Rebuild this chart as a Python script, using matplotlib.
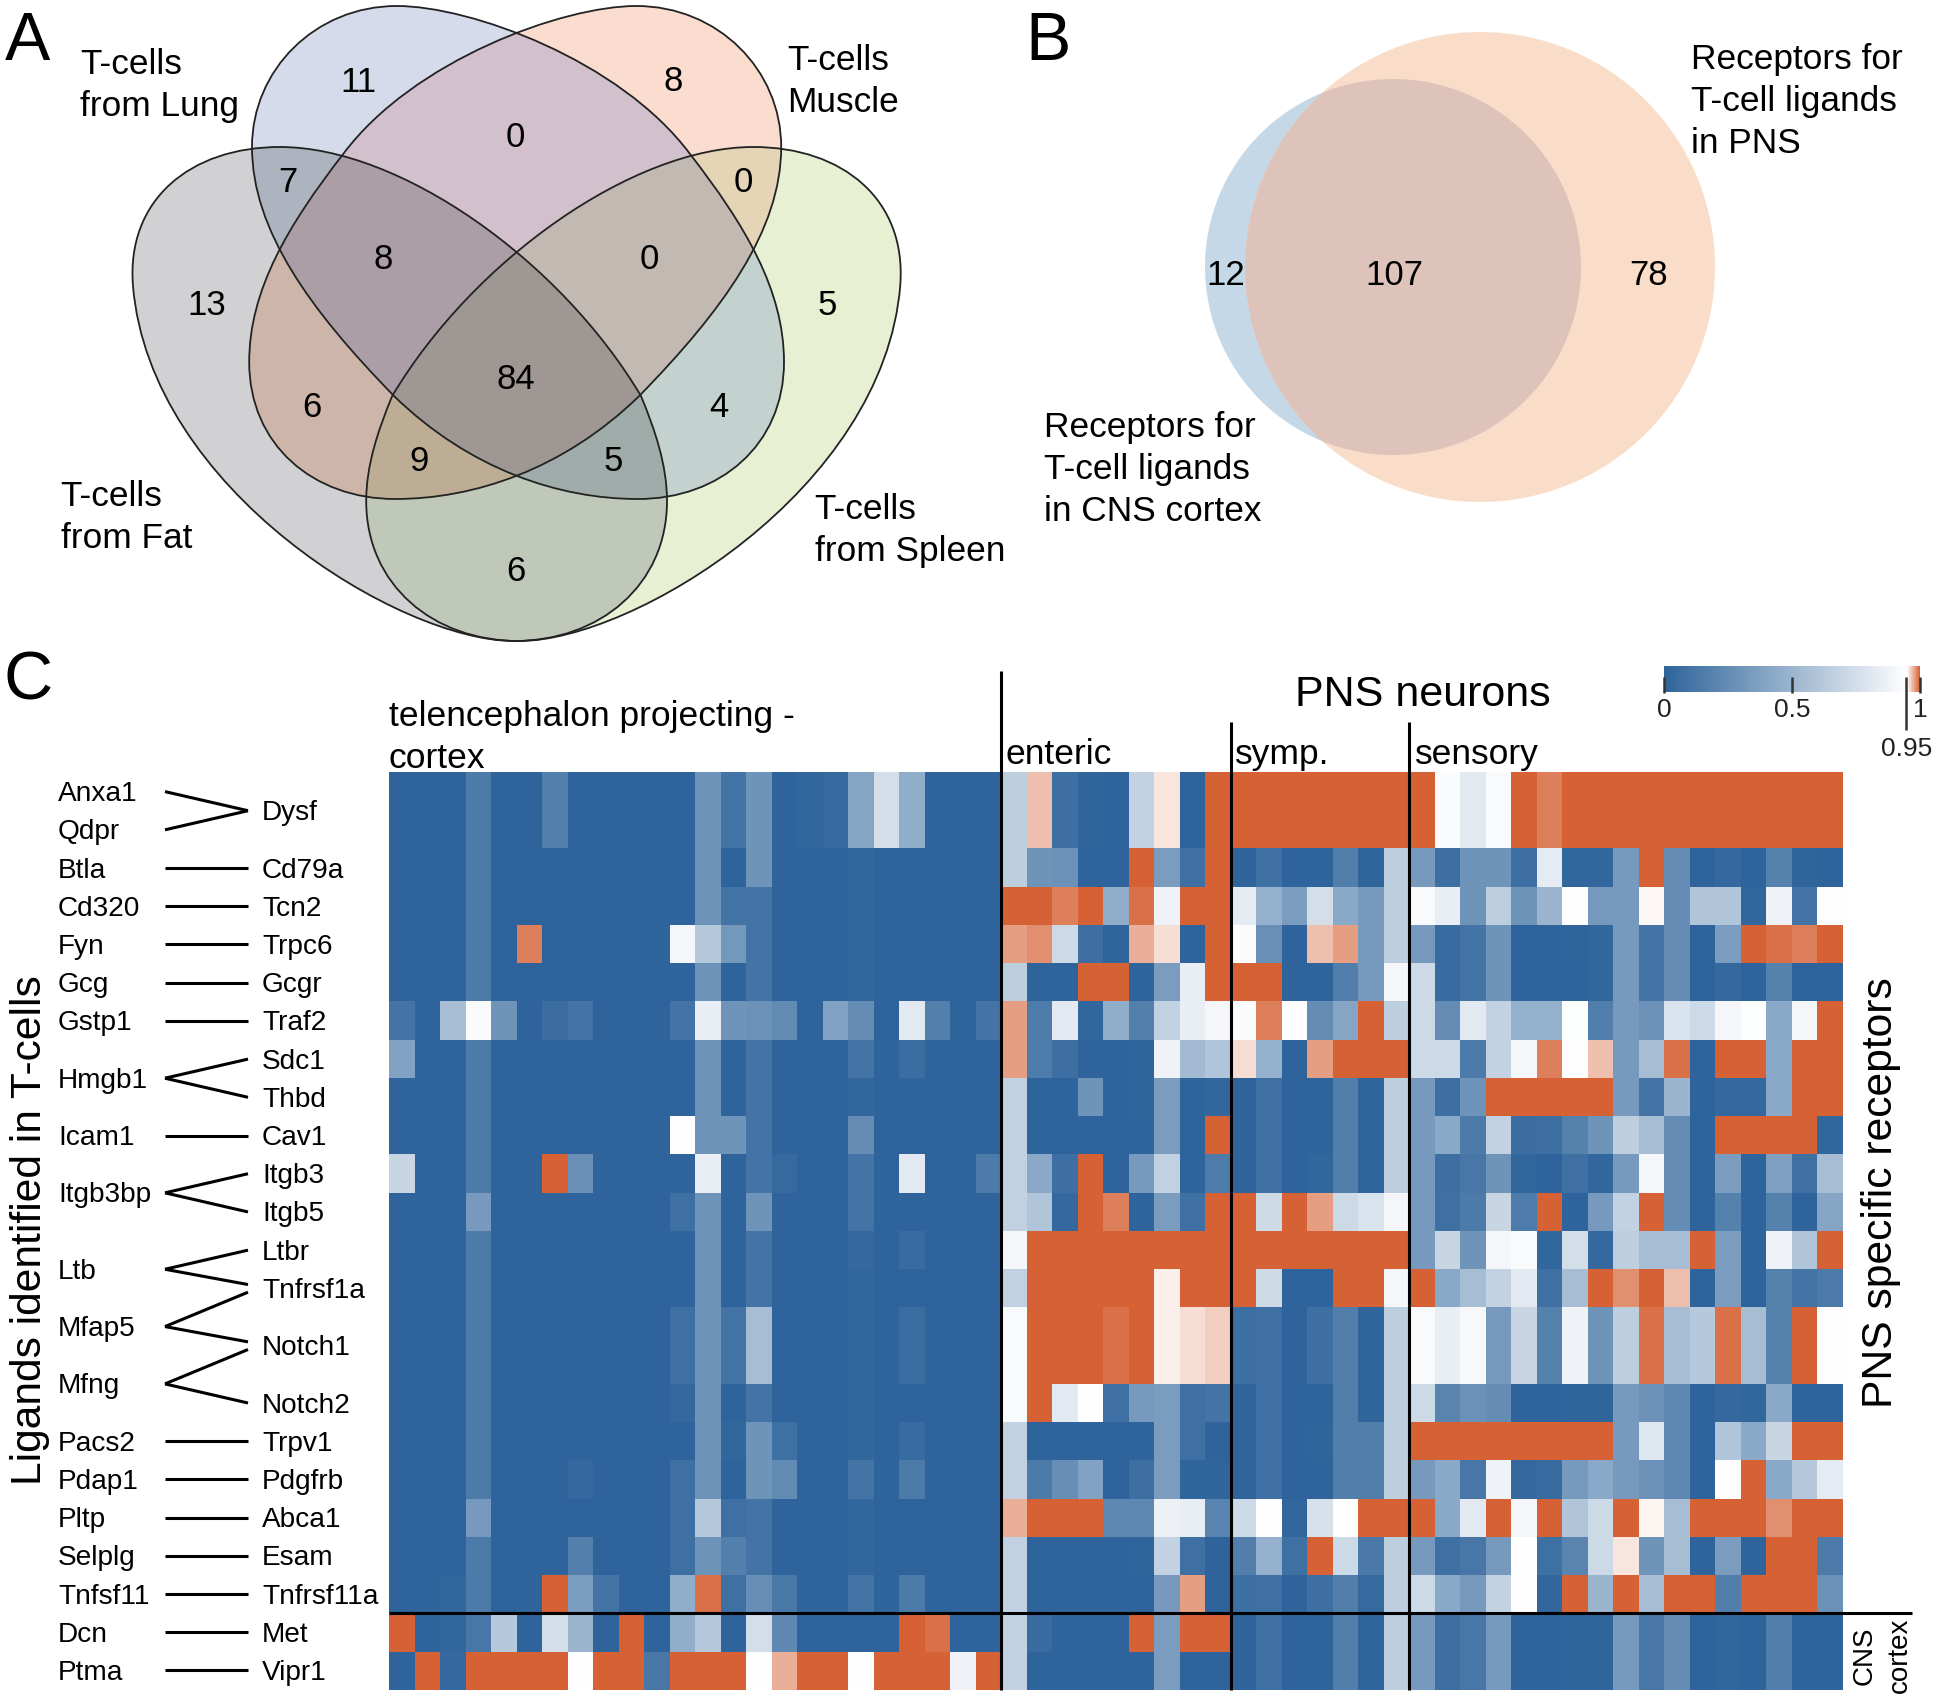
import matplotlib
matplotlib.use('Agg')
import matplotlib.pyplot as plt
import numpy as np
from matplotlib.colors import LinearSegmentedColormap, to_rgb
from matplotlib.patches import Circle, PathPatch
from matplotlib.path import Path

plt.rcParams['font.family'] = ['Liberation Sans', 'DejaVu Sans']

# heatmap values, one list per group of neurons, rows top to bottom
cortex = [
    [0, 0, 0, .14, 0, 0, .17, 0, 0, 0, 0, 0, .3, .1, .3, 0, .02, .04, .4, .75, .45, 0, 0, 0],
    [0, 0, 0, .14, 0, 0, .17, 0, 0, 0, 0, 0, .3, .1, .3, 0, .02, .04, .4, .75, .45, 0, 0, 0],
    [0, 0, 0, .14, 0, 0, 0, 0, 0, 0, 0, 0, .3, 0, .3, 0, 0, 0, .02, 0, 0, 0, 0, 0],
    [0, 0, 0, .14, 0, 0, 0, 0, 0, 0, 0, 0, .3, .1, .1, 0, 0, 0, .02, 0, 0, 0, 0, 0],
    [0, 0, 0, .14, 0, .99, 0, 0, 0, 0, 0, .9, .62, .32, .1, 0, 0, 0, .02, 0, 0, 0, 0, 0],
    [0, 0, 0, .14, 0, 0, 0, 0, 0, 0, 0, 0, .3, 0, .1, 0, 0, 0, .02, 0, 0, 0, 0, 0],
    [.1, 0, .55, .92, .3, 0, .06, .1, 0, 0, 0, .1, .85, .3, .28, .24, 0, .38, .25, 0, .82, .17, 0, .1],
    [.38, 0, 0, .14, 0, 0, 0, 0, 0, 0, 0, 0, .3, 0, .1, 0, 0, 0, .1, 0, .06, 0, 0, 0],
    [0, 0, 0, .14, 0, 0, 0, 0, 0, 0, 0, 0, .3, 0, .1, 0, 0, 0, .02, 0, 0, 0, 0, 0],
    [0, 0, 0, .14, 0, 0, 0, 0, 0, 0, 0, .95, .3, .3, .1, 0, 0, 0, .25, 0, 0, 0, 0, 0],
    [.7, 0, 0, .14, 0, 0, 1, .27, 0, 0, 0, 0, .85, 0, .1, .04, 0, 0, .1, 0, .82, 0, 0, .14],
    [0, 0, 0, .33, 0, 0, 0, 0, 0, 0, 0, .08, .3, 0, .3, 0, 0, 0, .1, 0, 0, 0, 0, 0],
    [0, 0, 0, .14, 0, 0, 0, 0, 0, 0, 0, 0, .3, 0, .1, 0, 0, 0, .03, 0, .05, 0, 0, 0],
    [0, 0, 0, .14, 0, 0, 0, 0, 0, 0, 0, 0, .3, 0, .1, 0, 0, 0, .02, 0, 0, 0, 0, 0],
    [0, 0, 0, .14, 0, 0, 0, 0, 0, 0, 0, .08, .3, .1, .55, 0, 0, 0, .02, 0, .06, 0, 0, 0],
    [0, 0, 0, .14, 0, 0, 0, 0, 0, 0, 0, .08, .3, .1, .55, 0, 0, 0, .02, 0, .06, 0, 0, 0],
    [0, 0, 0, .14, 0, 0, 0, 0, 0, 0, 0, .03, .3, 0, .1, 0, 0, 0, .02, 0, 0, 0, 0, 0],
    [0, 0, 0, .14, 0, 0, 0, 0, 0, 0, 0, 0, .3, .02, .3, .08, 0, 0, .02, 0, .05, 0, 0, 0],
    [0, 0, 0, .14, 0, 0, 0, .03, 0, 0, 0, .08, .3, 0, .3, .24, 0, 0, .1, 0, .14, 0, 0, 0],
    [0, 0, 0, .33, 0, 0, 0, 0, 0, 0, 0, .08, .62, .08, .1, 0, 0, 0, .02, 0, 0, 0, 0, 0],
    [0, 0, 0, .14, 0, 0, 0, .17, 0, 0, 0, .08, .3, .17, .1, 0, 0, 0, .02, 0, 0, 0, 0, 0],
    [0, 0, .02, .14, 0, 0, 1, .35, .1, 0, 0, .45, .995, .08, .26, .13, 0, 0, .1, 0, .14, 0, 0, 0],
    [1, 0, .02, .12, .62, 0, .75, .5, 0, 1, 0, .45, .62, 0, .75, .22, 0, 0, 0, 0, 1, .995, 0, 0],
    [0, 1, .03, 1, 1, 1, 1, .95, 1, 1, .12, 1, 1, 1, .95, .975, 1, 1, .95, 1, 1, 1, .88, 1],
]
enteric = [
    [.65, .97, .07, .01, 0, .68, .958, 0, 1],
    [.65, .97, .07, .01, 0, .68, .958, 0, 1],
    [.65, .3, .28, 0, 0, 1, .35, .08, 1],
    [1, 1, .99, 1, .45, .995, .88, 1, 1],
    [.98, .985, .72, .07, .01, .975, .96, 0, 1],
    [.65, 0, 0, 1, 1, 0, .35, .85, 1],
    [.98, .15, .82, .02, .45, .17, .67, .85, .9],
    [.98, .15, .07, 0, 0, .01, .88, .53, .6],
    [.67, 0, 0, .3, 0, .01, .35, 0, .02],
    [.67, 0, 0, 0, 0, 0, .35, 0, 1],
    [.67, .42, .07, 1, 0, .33, .67, 0, .15],
    [.67, .6, .03, 1, .99, 0, .35, .08, 1],
    [.9, 1, 1, 1, 1, 1, 1, 1, 1],
    [.67, 1, 1, 1, 1, 1, .955, 1, 1],
    [.92, 1, 1, 1, .995, 1, .955, .96, .965],
    [.92, 1, 1, 1, .995, 1, .955, .96, .965],
    [.92, 1, .82, .95, .08, .33, .35, .08, .1],
    [.67, 0, 0, 0, 0, 0, .35, .08, 0],
    [.67, .14, .26, .38, 0, .07, .35, .01, .01],
    [.975, 1, 1, 1, .22, .22, .87, .84, .2],
    [.67, 0, 0, 0, 0, .01, .68, .08, 0],
    [.67, 0, 0, 0, 0, 0, .33, .98, 0],
    [.67, .05, 0, 0, 0, 1, .35, 1, 1],
    [.67, 0, 0, 0, 0, 0, .35, 0, 0],
]
symp = [
    [1, 1, 1, 1, 1, 1, 1],
    [1, 1, 1, 1, 1, 1, 1],
    [0, .08, 0, 0, .16, .01, .65],
    [.83, .47, .35, .75, .42, .33, .65],
    [.93, .27, 0, .97, .98, .33, .65],
    [1, 1, 0, 0, .16, .33, .9],
    [.93, .99, .95, .25, .4, 1, .65],
    [.96, .47, 0, .98, 1, 1, 1],
    [0, .08, 0, 0, .16, .01, .65],
    [0, .08, 0, 0, .16, .01, .65],
    [0, .08, 0, .02, .16, .01, .65],
    [1, .73, 1, .98, .72, .78, .9],
    [1, 1, 1, 1, 1, 1, 1],
    [1, .73, 0, 0, 1, 1, .9],
    [.07, .08, 0, .07, .16, .01, .65],
    [.07, .08, 0, .07, .16, .01, .65],
    [.01, .08, 0, 0, .16, .01, .65],
    [.01, .08, 0, .01, .16, .16, .65],
    [.01, .08, 0, 0, .16, .16, .65],
    [.72, .95, .02, .77, .95, 1, 1],
    [.16, .47, .08, 1, .72, .13, .65],
    [.07, .08, 0, .07, .16, .04, .65],
    [0, .08, 0, 0, .16, .01, .65],
    [0, .08, 0, 0, .16, .01, .65],
]
sensory = [
    [1, .93, .82, .92, 1, .99, 1, 1, 1, 1, 1, 1, 1, 1, 1, 1, 1],
    [1, .93, .82, .92, 1, .99, 1, 1, 1, 1, 1, 1, 1, 1, 1, 1, 1],
    [.33, .07, .3, .3, .07, .83, .02, .02, .33, 1, .25, 0, .03, 0, .18, .01, 0],
    [.92, .85, .3, .65, .3, .5, .95, .33, .33, .952, .25, .6, .6, .02, .88, .1, .95],
    [.33, .05, .1, .3, 0, 0, .01, .02, .33, .1, .25, 0, .35, 1, .995, .99, 1],
    [.72, .05, .1, .3, 0, 0, 0, .02, .33, .1, .25, 0, .03, 0, .18, 0, 0],
    [.72, .25, .82, .68, .47, .47, .94, .16, .33, .28, .78, .72, .9, .94, .42, .9, 1],
    [.72, .72, .14, .68, .9, .99, .95, .97, .33, .55, .995, 0, 1, 1, .42, 1, 1],
    [.33, .07, .3, 1, 1, 1, 1, 1, .33, .1, .5, 0, .03, .03, .42, 1, 1],
    [.33, .42, .14, .68, .06, .07, .18, .3, .65, .55, .25, 0, 1, 1, 1, 1, .02],
    [.33, .07, .12, .3, .02, 0, .08, .02, .33, .9, .25, 0, .35, 0, .37, .08, .55],
    [.33, .08, .14, .7, .15, 1, 0, .33, .68, 1, .25, 0, .18, 0, .18, 0, .4],
    [.33, .7, .3, .9, .92, .02, .75, .03, .65, .55, .55, 1, .35, 0, .88, .6, 1],
    [1, .42, .55, .68, .82, .08, .55, 1, .985, 1, .97, 0, .35, 0, .18, .1, .14],
    [.92, .85, .91, .33, .7, .18, .88, .3, .65, .995, .55, .62, .995, .55, .18, 1, .95],
    [.92, .85, .91, .33, .7, .18, .88, .3, .65, .995, .55, .62, .995, .55, .18, 1, .95],
    [.72, .2, .28, .25, 0, 0, .01, .01, .33, .28, .22, 0, .03, .02, .42, 0, 0],
    [1, 1, 1, 1, 1, 1, 1, 1, .33, .8, .22, 0, .6, .42, .7, 1, 1],
    [.33, .42, .12, .88, .03, .05, .33, .42, .33, .28, .22, 0, .95, 1, .42, .62, .83],
    [1, .42, .82, 1, .9, 1, .6, .72, 1, .953, .55, 1, 1, 1, .985, 1, 1],
    [.33, .08, .12, .33, .95, .08, .2, .72, .958, .3, .55, 0, .35, 0, 1, 1, .14],
    [.72, .42, .33, .68, .95, .02, 1, .5, 1, .55, 1, 1, .16, 1, 1, 1, .28],
    [.33, .07, .12, .33, 0, 0, .01, .01, .33, .12, .25, 0, .02, 0, .16, 0, 0],
    [.33, .07, .12, .33, 0, 0, .01, .01, .33, .12, .25, 0, .02, 0, .16, 0, 0],
]

ligands = ['Anxa1', 'Qdpr', 'Btla', 'Cd320', 'Fyn', 'Gcg', 'Gstp1', 'Hmgb1', 'Icam1', 'Itgb3bp',
           'Ltb', 'Mfap5', 'Mfng', 'Pacs2', 'Pdap1', 'Pltp', 'Selplg', 'Tnfsf11', 'Dcn', 'Ptma']
ligand_rows = [0, 1, 2, 3, 4, 5, 6, 7.5, 9, 10.5, 12.5, 14, 15.5, 17, 18, 19, 20, 21, 22, 23]
receptors = ['Dysf', 'Cd79a', 'Tcn2', 'Trpc6', 'Gcgr', 'Traf2', 'Sdc1', 'Thbd', 'Cav1', 'Itgb3', 'Itgb5',
             'Ltbr', 'Tnfrsf1a', 'Notch1', 'Notch2', 'Trpv1', 'Pdgfrb', 'Abca1', 'Esam', 'Tnfrsf11a',
             'Met', 'Vipr1']
receptor_rows = [.5, 2, 3, 4, 5, 6, 7, 8, 9, 10, 11, 12, 13, 14.5, 16, 17, 18, 19, 20, 21, 22, 23]
# which ligand row joins which receptor row
link_from = [0, 1, 2, 3, 4, 5, 6, 7.5, 7.5, 9, 10.5, 10.5, 12.5, 12.5, 14, 14, 15.5, 15.5, 17, 18, 19, 20, 21, 22, 23]
link_to = [.5, .5, 2, 3, 4, 5, 6, 7, 8, 9, 10, 11, 12, 12.9, 13.1, 14.4, 14.6, 16, 17, 18, 19, 20, 21, 22, 23]

# venn counts, A then B
venn_a_counts = ['11', '8', '0', '7', '0', '8', '0', '13', '5', '84', '6', '4', '9', '5', '6']
venn_a_x = [290, 545, 417, 233, 601, 310, 525, 167, 669, 417, 252, 582, 339, 496, 417]
venn_a_y = [65, 64, 109, 146, 146, 208, 208, 245, 245, 305, 328, 328, 371, 371, 460]
venn_b_counts = ['12', '107', '78']
venn_b_x = [992, 1128, 1334]

# bezier outlines of panel A, muscle and spleen are the mirror of these
lung_curve = [(397, 6), (470, 6), (620, 60), (690, 154), (745, 225), (784, 290), (784, 362),
              (784, 445), (720, 499), (638, 499), (560, 499), (470, 470), (394, 396),
              (310, 310), (252, 230), (252, 147), (252, 70), (315, 6), (397, 6)]
fat_curve = [(280, 147), (400, 147), (560, 260), (641, 396), (655, 430), (667, 465), (667, 501),
             (667, 585), (600, 641), (514, 641), (400, 641), (150, 490), (133, 286),
             (126, 200), (190, 147), (280, 147)]
MIRROR_X = 1033.2

S = 1938 / 1568
TEXT_DY = 2.5
HEAT_LEFT, HEAT_RIGHT, HEAT_TOP, HEAT_BOTTOM = 389, 1843, 772.5, 1689.6
ROW_H = (HEAT_BOTTOM - HEAT_TOP) / 24


def bezier_path(points):
    codes = [Path.MOVETO] + [Path.CURVE4] * (len(points) - 1)
    return Path(np.array(points, dtype=float), codes)


def row_y(row):
    return HEAT_TOP + ROW_H * (row + .5)


def main():
    fig = plt.figure(figsize=(19.38, 17), dpi=100)
    ax = fig.add_axes([0, 0, 1, 1])

    # panel A, overlaps darken like a multiply blend
    paths = [bezier_path(lung_curve),
             bezier_path([(MIRROR_X - x, y) for x, y in lung_curve]),
             bezier_path(fat_curve),
             bezier_path([(MIRROR_X - x, y) for x, y in fat_curve])]
    tints = ['#D5DBEB', '#FBDDCF', '#D1D1D3', '#E7F0D3']
    # factor used where a set lies over an earlier one, read from the overlaps
    over_tints = [(1, 1, 1), (.99, .88, .87), (.82, .82, .82), (.92, .96, .88)]
    width, height = 950, 660
    xx, yy = np.meshgrid(np.arange(width) + .5, np.arange(height) + .5)
    grid = np.column_stack([xx.ravel(), yy.ravel()])
    blend = np.ones((height, width, 3))
    for path, tint, over in zip(paths, tints, over_tints):
        inside = path.contains_points(grid).reshape(height, width)
        covered = (blend < 1).any(axis=2)
        blend[inside & covered] *= over
        blend[inside & ~covered] *= to_rgb(tint)
    ax.imshow(blend, extent=(0, width, height, 0), aspect='auto', interpolation='nearest')
    for path in paths:
        ax.add_patch(PathPatch(path, facecolor='none', edgecolor='#222222', lw=1.3))
    for label, x, y in zip(venn_a_counts, venn_a_x, venn_a_y):
        ax.text(x * S, y * S + TEXT_DY, label, fontsize=25, ha='center', va='center')

    # panel B
    ax.add_patch(Circle((1393, 267), 188, facecolor='#C4D8E8', edgecolor='none'))
    pns_circle = Circle((1480, 267), 235, facecolor='#FADDC8', edgecolor='none')
    ax.add_patch(pns_circle)
    overlap = Circle((1393, 267), 188, facecolor='#DEC3BB', edgecolor='none')
    ax.add_patch(overlap)
    overlap.set_clip_path(pns_circle)
    for label, x in zip(venn_b_counts, venn_b_x):
        ax.text(x * S, 221 * S + TEXT_DY, label, fontsize=25, ha='center', va='center')

    side_labels = [('T-cells', 65, 50), ('from Lung', 65, 84), ('T-cells', 637, 47), ('Muscle', 637, 81),
                   ('T-cells', 49, 400), ('from Fat', 49, 434), ('T-cells', 659, 410), ('from Spleen', 659, 444),
                   ('Receptors for', 1368, 46), ('T-cell ligands', 1368, 80), ('in PNS', 1368, 114),
                   ('Receptors for', 845, 344), ('T-cell ligands', 845, 378), ('in CNS cortex', 845, 412)]
    for label, x, y in side_labels:
        ax.text(x * S, y * S + TEXT_DY, label, fontsize=25.4, ha='left', va='center')
    for label, x, y in [('A', 22, 34), ('B', 848, 34), ('C', 23, 551)]:
        ax.text(x * S, y * S, label, fontsize=49, ha='center', va='center')

    # panel C, heatmap
    matrix = np.hstack([np.array(cortex), np.array(enteric), np.array(symp), np.array(sensory)])
    cmap = LinearSegmentedColormap.from_list('blue_orange', [(0, '#2E649B'), (.95, '#FFFFFF'), (1, '#D66135')], N=2048)
    ax.imshow(matrix, cmap=cmap, vmin=0, vmax=1, aspect='auto', interpolation='nearest',
              extent=(HEAT_LEFT, HEAT_RIGHT, HEAT_BOTTOM, HEAT_TOP))

    # group separators
    ax.plot([1001, 1001], [671, HEAT_BOTTOM], color='black', lw=2.2, solid_capstyle='butt')
    ax.plot([1231, 1231], [722, HEAT_BOTTOM], color='black', lw=2.2, solid_capstyle='butt')
    ax.plot([1409, 1409], [722, HEAT_BOTTOM], color='black', lw=2.2, solid_capstyle='butt')
    ax.plot([HEAT_LEFT, 1912], [1613, 1613], color='black', lw=2.2, solid_capstyle='butt')

    # colour scale
    ramp = np.linspace(0, 1, 512).reshape(1, -1)
    ax.imshow(ramp, cmap=cmap, vmin=0, vmax=1, aspect='auto', extent=(1664, 1920, 692, 667))
    for value, label in [(0, '0'), (.5, '0.5'), (1, '1')]:
        x = 1664 + 256 * value
        ax.plot([x, x], [677, 693], color='#333333', lw=1.8, solid_capstyle='butt')
        ax.text(x, 707 + TEXT_DY, label, fontsize=19, ha='center', va='center', color='#222222')
    ax.plot([1906.5, 1906.5], [677, 730], color='#333333', lw=1.8, solid_capstyle='butt')
    ax.text(1906.5, 746 + TEXT_DY, '0.95', fontsize=19, ha='center', va='center', color='#222222')

    # gene names and the links between them
    for name, row in zip(ligands, ligand_rows):
        ax.text(58, row_y(row) + TEXT_DY, name, fontsize=20.2, ha='left', va='center')
    for name, row in zip(receptors, receptor_rows):
        ax.text(262, row_y(row) + TEXT_DY, name, fontsize=20.2, ha='left', va='center')
    for start, end in zip(link_from, link_to):
        ax.plot([165, 248], [row_y(start), row_y(end)], color='black', lw=2.2, solid_capstyle='butt')

    ax.text(389, 714 + TEXT_DY, 'telencephalon projecting -', fontsize=25.5, ha='left', va='center')
    ax.text(389, 756 + TEXT_DY, 'cortex', fontsize=25.5, ha='left', va='center')
    ax.text(1295, 692 + TEXT_DY, 'PNS neurons', fontsize=31, ha='left', va='center')
    ax.text(1006, 752 + TEXT_DY, 'enteric', fontsize=25.5, ha='left', va='center')
    ax.text(1235, 752 + TEXT_DY, 'symp.', fontsize=25.5, ha='left', va='center')
    ax.text(1415, 752 + TEXT_DY, 'sensory', fontsize=25.5, ha='left', va='center')
    ax.text(30, 1230, 'Ligands identified in T-cells', fontsize=30.6, rotation=90, ha='center', va='center')
    ax.text(1881, 1193, 'PNS specific receptors', fontsize=30.7, rotation=90, ha='center', va='center')
    ax.text(1865, 1656, 'CNS', fontsize=20, rotation=90, ha='center', va='center')
    ax.text(1900, 1655, 'cortex', fontsize=20, rotation=90, ha='center', va='center')

    ax.set_xlim(0, 1938)
    ax.set_ylim(1700, 0)
    ax.axis('off')
    fig.savefig('out.png', dpi=100)
    plt.close(fig)


if __name__ == "__main__":
    main()
